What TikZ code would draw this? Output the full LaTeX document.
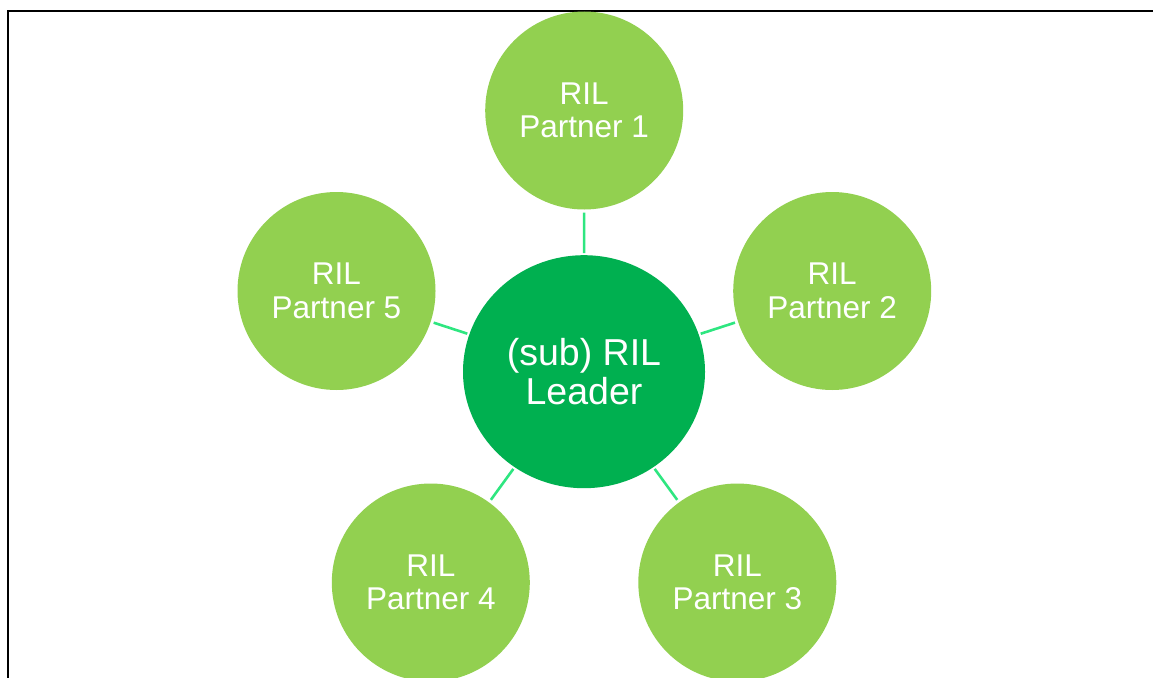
\documentclass[tikz,border=0pt]{standalone}
\usepackage{fontspec}
\setmainfont{Liberation Sans}
\usetikzlibrary{shapes.geometric}
\definecolor{partnergreen}{RGB}{146,208,80}
\definecolor{leadergreen}{RGB}{0,176,80}
\definecolor{linkgreen}{RGB}{46,230,128}
\tikzset{
  partner/.style={circle, fill=partnergreen, draw=none, minimum size=198pt, inner sep=0pt,
    text=white, align=center, font=\fontsize{31.5}{33.6}\selectfont},
  leader/.style={ellipse, fill=leadergreen, draw=none, minimum width=242pt, minimum height=233pt,
    inner sep=0pt, text=white, align=center, font=\fontsize{37.5}{39}\selectfont},
  link/.style={draw=linkgreen, line width=2.6pt, shorten <=2pt, shorten >=3pt},
  frame/.style={draw=black, line width=1.7pt}
}
\begin{document}
\begin{tikzpicture}[x=1pt,y=-1pt]
\useasboundingbox (0,0) rectangle (1153,677);
\coordinate (fb) at (7.9,680);
\coordinate (fc) at (7.9,10.9);
\coordinate (fr) at (1156,10.9);
\draw[frame] (fb) -- (fc) -- (fr);
\node[leader] (L) at (584,371.7) {(sub) RIL\\Leader};
\node[partner] (P1) at (584.2,110.5) {RIL\\Partner 1};
\node[partner] (P2) at (832.2,291) {RIL\\Partner 2};
\node[partner] (P3) at (737.3,582.5) {RIL\\Partner 3};
\node[partner] (P4) at (430.8,582.5) {RIL\\Partner 4};
\node[partner] (P5) at (336.5,291) {RIL\\Partner 5};
\foreach \p in {P1,P2,P3,P4,P5}{
  \draw[link] (L) -- (\p);
}
\end{tikzpicture}
\end{document}
